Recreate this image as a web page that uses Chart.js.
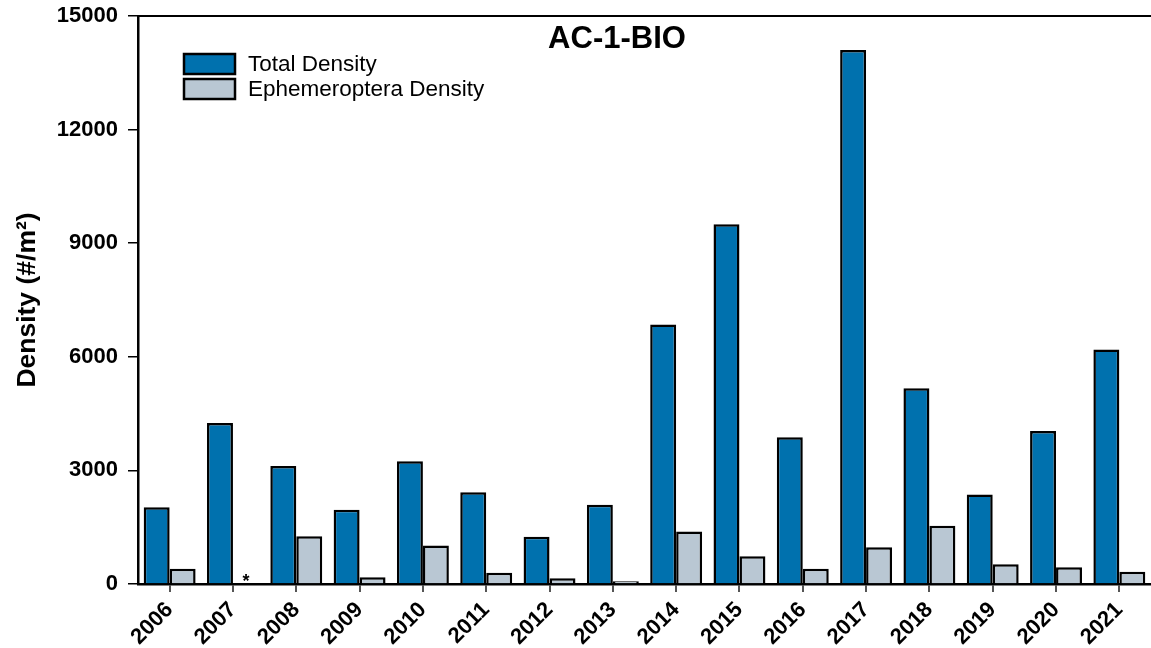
<!DOCTYPE html>
<html>
<head>
<meta charset="utf-8">
<title>AC-1-BIO</title>
<script src="https://cdn.jsdelivr.net/npm/chart.js@4.4.1/dist/chart.umd.min.js"></script>
<style>
  html, body { margin: 0; padding: 0; background: #ffffff; }
  canvas { display: block; }
</style>
</head>
<body>
<canvas id="chart" width="1151" height="648"></canvas>
<script>
// Sampling years
const years = ['2006', '2007', '2008', '2009', '2010', '2011', '2012', '2013',
               '2014', '2015', '2016', '2017', '2018', '2019', '2020', '2021'];

// Total benthic invertebrate density (#/m²)
const totalDensity = [2030, 4250, 3115, 1960, 3240, 2425, 1245, 2090,
                      6850, 9500, 3875, 14100, 5170, 2365, 4040, 6190];

// Ephemeroptera density (#/m²); null = not available (marked with *)
const ephemeropteraDensity = [405, null, 1260, 175, 1020, 300, 150, 70,
                              1385, 730, 405, 970, 1535, 520, 440, 325];

// Y-axis tick values
const yTicks = [0, 3000, 6000, 9000, 12000, 15000];

const stationName = 'AC-1-BIO';
const FONT = '"Liberation Sans", Arial, Helvetica, sans-serif';

// Frame top line, title, in-plot legend and "*" markers for missing values
const decorations = {
  id: 'decorations',
  afterDatasetsDraw(chart) {
    const { ctx, chartArea } = chart;
    ctx.save();

    // top frame line
    ctx.strokeStyle = '#000';
    ctx.lineWidth = 2;
    ctx.beginPath();
    ctx.moveTo(chartArea.left - 1, chartArea.top);
    ctx.lineTo(chartArea.right, chartArea.top);
    ctx.stroke();

    // station title
    ctx.fillStyle = '#000';
    ctx.font = 'bold 31px ' + FONT;
    ctx.textAlign = 'center';
    ctx.textBaseline = 'middle';
    ctx.fillText(stationName, 617, 39);

    // legend
    ctx.font = '22.5px ' + FONT;
    ctx.textAlign = 'left';
    chart.data.datasets.forEach((ds, i) => {
      const y = 54 + i * 25;
      ctx.fillStyle = ds.backgroundColor;
      ctx.fillRect(184, y, 51, 20);
      ctx.strokeStyle = '#000';
      ctx.lineWidth = 2.5;
      ctx.strokeRect(184, y, 51, 20);
      ctx.fillStyle = '#000';
      ctx.fillText(ds.label, 248, y + 11);
    });

    // "*" where a value is missing
    const yScale = chart.scales.y;
    chart.data.datasets.forEach((ds, di) => {
      const meta = chart.getDatasetMeta(di);
      ds.data.forEach((v, i) => {
        if (v === null) {
          const el = meta.data[i];
          ctx.fillStyle = '#000';
          ctx.font = 'bold 18px ' + FONT;
          ctx.textAlign = 'center';
          ctx.textBaseline = 'alphabetic';
          ctx.fillText('*', el.x, yScale.getPixelForValue(0) + 3);
        }
      });
    });

    ctx.restore();
  }
};

new Chart(document.getElementById('chart'), {
  type: 'bar',
  data: {
    labels: years,
    datasets: [
      {
        label: 'Total Density',
        data: totalDensity,
        backgroundColor: '#0071AE',
        borderColor: '#000000',
        borderWidth: 2.5
      },
      {
        label: 'Ephemeroptera Density',
        data: ephemeropteraDensity,
        backgroundColor: '#B9C7D3',
        borderColor: '#000000',
        borderWidth: 2.5
      }
    ]
  },
  options: {
    responsive: false,
    animation: false,
    layout: { padding: { top: 16, right: 0, left: 0, bottom: 0 } },
    datasets: {
      bar: { categoryPercentage: 0.82, barPercentage: 1.0 }
    },
    plugins: {
      legend: { display: false },
      title: { display: false },
      tooltip: { enabled: false }
    },
    scales: {
      x: {
        offset: true,
        grid: {
          offset: false,
          drawOnChartArea: false,
          drawTicks: true,
          tickLength: 8,
          color: '#555555',
          lineWidth: 2
        },
        border: { display: true, color: '#000000', width: 2.5 },
        ticks: {
          autoSkip: false,
          minRotation: 45,
          maxRotation: 45,
          padding: 5,
          color: '#000000',
          font: { family: FONT, size: 22, weight: 'bold' }
        },
        afterFit(scale) {
          scale.height = 64;
          scale.paddingLeft = 0;
          scale.paddingRight = 0;
        }
      },
      y: {
        min: 0,
        max: 15000,
        afterBuildTicks(scale) { scale.ticks = yTicks.map(v => ({ value: v })); },
        grid: {
          drawOnChartArea: false,
          drawTicks: true,
          tickLength: 10,
          color: '#000000',
          lineWidth: 1.5
        },
        border: { display: true, color: '#000000', width: 2.5 },
        ticks: {
          padding: 10,
          color: '#000000',
          font: { family: FONT, size: 22, weight: 'bold' },
          callback: v => String(v)
        },
        title: {
          display: true,
          text: 'Density (#/m²)',
          color: '#000000',
          padding: { top: 12, bottom: 0 },
          font: { family: FONT, size: 26.5, weight: 'bold' }
        },
        afterFit(scale) {
          scale.width = 138;
          scale.paddingTop = 0;
          scale.paddingBottom = 0;
        }
      }
    }
  },
  plugins: [decorations]
});
</script>
</body>
</html>
